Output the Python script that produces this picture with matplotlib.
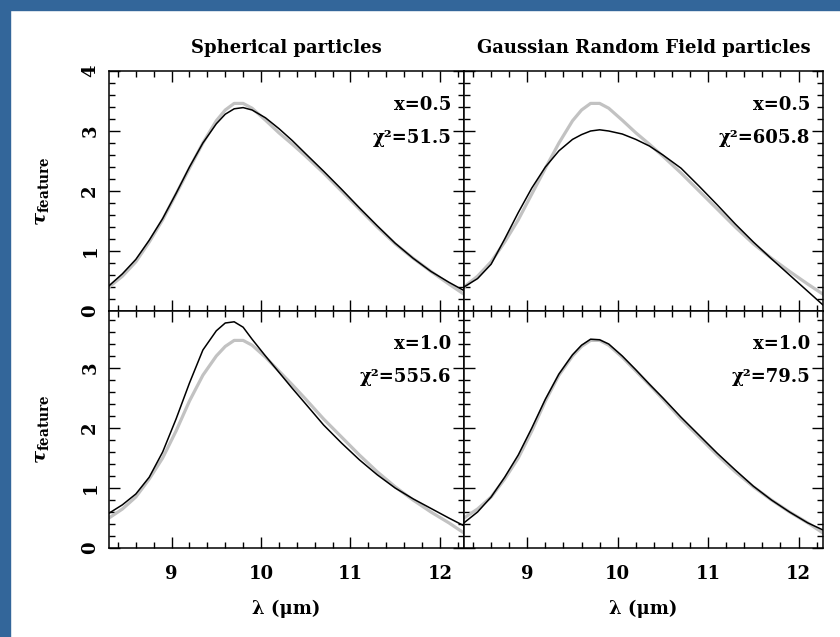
import matplotlib
matplotlib.use("Agg")
import matplotlib.pyplot as plt
from matplotlib.patches import Rectangle
from matplotlib.ticker import MultipleLocator

plt.rcParams['font.family'] = 'DejaVu Serif'
plt.rcParams['font.weight'] = 'bold'
plt.rcParams['mathtext.fontset'] = 'dejavuserif'

# wavelength grid (micron)
wave = [8.3, 8.45, 8.6, 8.75, 8.9, 9.05, 9.2, 9.35, 9.5, 9.6, 9.7, 9.8, 9.9,
        10.05, 10.2, 10.35, 10.5, 10.7, 10.9, 11.1, 11.3, 11.5, 11.7, 11.9,
        12.1, 12.27]

# observed feature profiles (grey)
obs_top = [0.40, 0.58, 0.82, 1.15, 1.52, 1.95, 2.38, 2.80, 3.17, 3.35, 3.46,
           3.46, 3.38, 3.18, 2.97, 2.78, 2.58, 2.30, 2.00, 1.70, 1.40, 1.12,
           0.88, 0.66, 0.45, 0.28]
obs_bottom = [0.50, 0.65, 0.85, 1.15, 1.50, 1.95, 2.45, 2.88, 3.20, 3.36, 3.46,
              3.46, 3.38, 3.18, 2.95, 2.72, 2.48, 2.15, 1.85, 1.55, 1.27, 1.02,
              0.80, 0.60, 0.42, 0.25]

# model fits (black)
sph_05 = [0.42, 0.62, 0.86, 1.18, 1.54, 1.96, 2.40, 2.80, 3.12, 3.28, 3.37,
          3.39, 3.35, 3.22, 3.04, 2.84, 2.62, 2.33, 2.03, 1.72, 1.42, 1.13,
          0.88, 0.66, 0.48, 0.34]
grf_05 = [0.40, 0.54, 0.78, 1.20, 1.64, 2.05, 2.40, 2.67, 2.86, 2.94, 3.00,
          3.02, 3.00, 2.95, 2.86, 2.75, 2.60, 2.38, 2.08, 1.77, 1.45, 1.15,
          0.87, 0.60, 0.33, 0.10]
sph_10 = [0.58, 0.72, 0.90, 1.18, 1.60, 2.15, 2.75, 3.30, 3.62, 3.75, 3.77,
          3.68, 3.48, 3.20, 2.93, 2.66, 2.40, 2.05, 1.75, 1.47, 1.22, 1.00,
          0.82, 0.66, 0.50, 0.37]
grf_10 = [0.42, 0.60, 0.85, 1.18, 1.55, 2.00, 2.48, 2.90, 3.22, 3.38, 3.48,
          3.47, 3.40, 3.20, 2.97, 2.73, 2.50, 2.18, 1.88, 1.58, 1.30, 1.03,
          0.80, 0.60, 0.42, 0.30]

titles = ["Spherical particles", "Gaussian Random Field particles"]
xvals = ["x=0.5", "x=0.5", "x=1.0", "x=1.0"]
chi2 = ["χ²=51.5", "χ²=605.8", "χ²=555.6", "χ²=79.5"]

W, H = 840, 637
fig = plt.figure(figsize=(W / 100, H / 100), dpi=100)
fig.patch.set_facecolor('white')

# blue frame along left and top edges
blue = '#33669a'
fig.patches.append(Rectangle((0, 0), 10 / W, 1, transform=fig.transFigure,
                             color=blue, zorder=-1))
fig.patches.append(Rectangle((0, 1 - 10 / H), 1, 10 / H, transform=fig.transFigure,
                             color=blue, zorder=-1))

def box(x0, x1, y0, y1):
    return [x0 / W, 1 - y1 / H, (x1 - x0) / W, (y1 - y0) / H]

rects = [box(109, 464, 71, 311), box(464, 823, 71, 311),
         box(109, 464, 311, 548), box(464, 823, 311, 548)]
obs = [obs_top, obs_top, obs_bottom, obs_bottom]
models = [sph_05, grf_05, sph_10, grf_10]

for i, r in enumerate(rects):
    ax = fig.add_axes(r)
    ax.plot(wave, obs[i], color='#c2c2c2', lw=2.3, solid_capstyle='round')
    ax.plot(wave, models[i], color='black', lw=1.1)
    ax.set_xlim(8.3, 12.27)
    ax.set_ylim(0, 4 if i < 2 else 3.95)
    ax.xaxis.set_major_locator(MultipleLocator(1))
    ax.xaxis.set_minor_locator(MultipleLocator(0.2))
    ax.yaxis.set_major_locator(MultipleLocator(1))
    ax.yaxis.set_minor_locator(MultipleLocator(0.2))
    ax.tick_params(which='both', direction='in', top=True, right=True, width=1.0)
    ax.tick_params(which='major', length=8)
    ax.tick_params(which='minor', length=4.5)
    ax.tick_params(labelsize=13)
    ax.tick_params(axis='x', pad=12)
    ax.tick_params(axis='y', pad=7)
    for s in ax.spines.values():
        s.set_linewidth(1.1)
    if i % 2 == 1:
        ax.set_yticklabels([])
    else:
        for lab in ax.get_yticklabels():
            lab.set_rotation(90)
            lab.set_va('center')
    if i < 2:
        ax.set_xticklabels([])
        ax.set_title(titles[i], fontsize=13, fontweight='bold', pad=13)
    else:
        ax.set_xlabel('λ (μm)', fontsize=13, fontweight='bold', labelpad=12)
    ax.text(0.965, 0.86, xvals[i], transform=ax.transAxes, ha='right',
            va='center', fontsize=13, fontweight='bold')
    ax.text(0.965, 0.72, chi2[i], transform=ax.transAxes, ha='right',
            va='center', fontsize=13, fontweight='bold')
    if i % 2 == 0:
        fig.text(42 / W, r[1] + r[3] / 2, r'$\tau_{\rm feature}$', rotation=90,
                 ha='center', va='center', fontsize=14)

fig.savefig('out.png', dpi=100)
